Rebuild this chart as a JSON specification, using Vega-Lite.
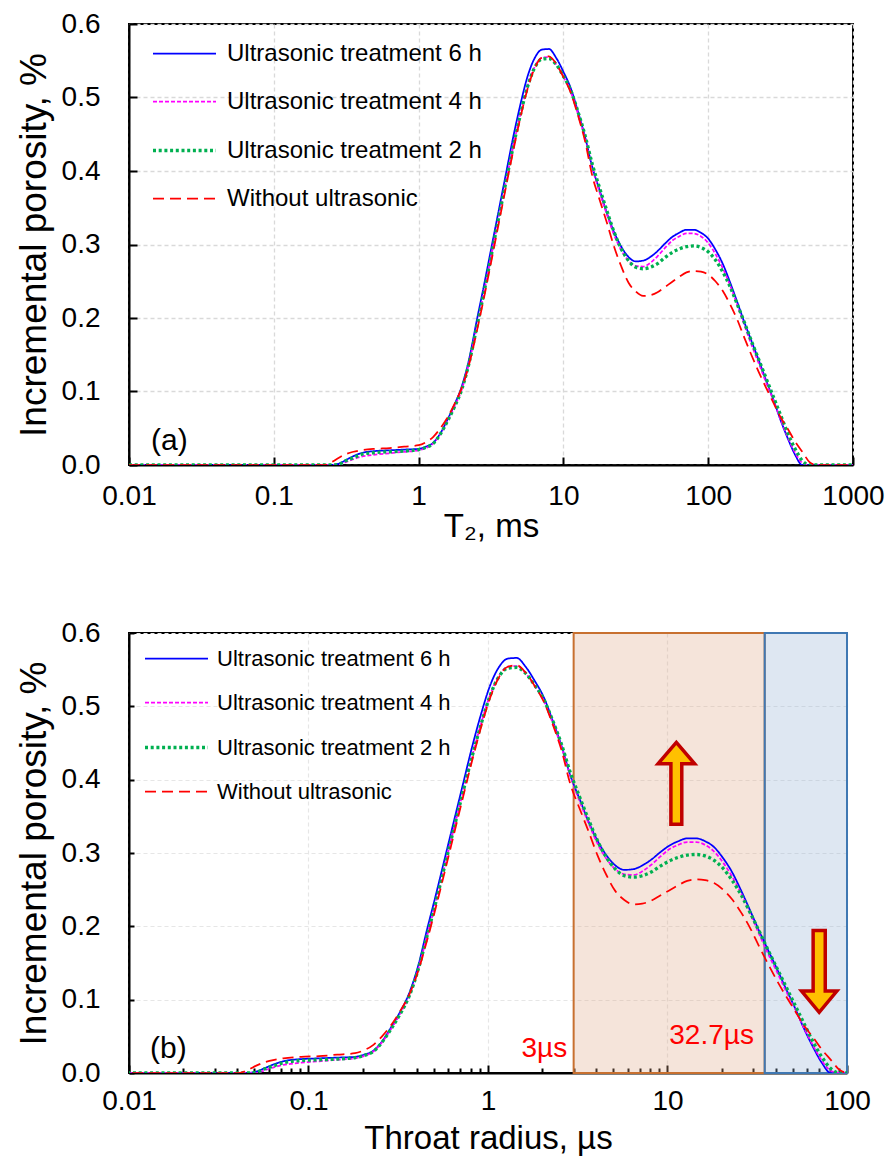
{
  "$schema": "https://vega.github.io/schema/vega-lite/v6.json",
  "padding": {"left": 14, "top": 9, "right": 10, "bottom": 5},
  "background": "white",
  "config": {
    "font": "Liberation Sans",
    "view": {"stroke": "black", "strokeWidth": 2},
    "axis": {
      "labelFont": "Liberation Sans", "titleFont": "Liberation Sans",
      "labelFontSize": 28, "titleFontSize": 33, "titleFontWeight": "normal",
      "labelColor": "black", "titleColor": "black",
      "domainColor": "black", "domainWidth": 2, "tickColor": "black", "tickWidth": 2,
      "labelFlush": false, "labelOverlap": false
    },
    "legend": {"labelFont": "Liberation Sans", "labelColor": "black", "labelLimit": 500}
  },
  "datasets": {
    "curves": [
      {"T2": 0.01, "r": 0.00182, "h6": 0, "h4": 0, "h2": 0, "h0": 0},
      {"T2": 0.2239, "r": 0.0407, "h6": 0, "h4": 0, "h2": 0, "h0": 0},
      {"T2": 0.2512, "r": 0.0457, "h6": 0, "h4": 0, "h2": 0, "h0": 0.004},
      {"T2": 0.2818, "r": 0.0512, "h6": 0.002, "h4": 0, "h2": 0.001, "h0": 0.010},
      {"T2": 0.3162, "r": 0.0575, "h6": 0.007, "h4": 0.004, "h2": 0.006, "h0": 0.015},
      {"T2": 0.3548, "r": 0.0645, "h6": 0.012, "h4": 0.008, "h2": 0.010, "h0": 0.018},
      {"T2": 0.3981, "r": 0.0724, "h6": 0.016, "h4": 0.011, "h2": 0.014, "h0": 0.020},
      {"T2": 0.5012, "r": 0.0911, "h6": 0.019, "h4": 0.014, "h2": 0.017, "h0": 0.022},
      {"T2": 0.6310, "r": 0.1147, "h6": 0.020, "h4": 0.016, "h2": 0.018, "h0": 0.023},
      {"T2": 0.7943, "r": 0.1444, "h6": 0.021, "h4": 0.018, "h2": 0.019, "h0": 0.025},
      {"T2": 1, "r": 0.1818, "h6": 0.022, "h4": 0.020, "h2": 0.021, "h0": 0.027},
      {"T2": 1.122, "r": 0.2040, "h6": 0.025, "h4": 0.023, "h2": 0.024, "h0": 0.031},
      {"T2": 1.259, "r": 0.2289, "h6": 0.030, "h4": 0.029, "h2": 0.029, "h0": 0.038},
      {"T2": 1.413, "r": 0.2569, "h6": 0.043, "h4": 0.042, "h2": 0.042, "h0": 0.050},
      {"T2": 1.585, "r": 0.2882, "h6": 0.062, "h4": 0.060, "h2": 0.060, "h0": 0.065},
      {"T2": 1.778, "r": 0.3233, "h6": 0.083, "h4": 0.080, "h2": 0.080, "h0": 0.084},
      {"T2": 1.995, "r": 0.3627, "h6": 0.108, "h4": 0.104, "h2": 0.104, "h0": 0.106},
      {"T2": 2.239, "r": 0.4071, "h6": 0.145, "h4": 0.140, "h2": 0.140, "h0": 0.138},
      {"T2": 2.512, "r": 0.4567, "h6": 0.195, "h4": 0.186, "h2": 0.186, "h0": 0.180},
      {"T2": 2.818, "r": 0.5124, "h6": 0.243, "h4": 0.233, "h2": 0.233, "h0": 0.226},
      {"T2": 3.162, "r": 0.5749, "h6": 0.293, "h4": 0.283, "h2": 0.283, "h0": 0.275},
      {"T2": 3.548, "r": 0.6451, "h6": 0.343, "h4": 0.333, "h2": 0.333, "h0": 0.325},
      {"T2": 3.981, "r": 0.7238, "h6": 0.393, "h4": 0.382, "h2": 0.382, "h0": 0.375},
      {"T2": 4.467, "r": 0.8122, "h6": 0.443, "h4": 0.430, "h2": 0.430, "h0": 0.424},
      {"T2": 5.012, "r": 0.9113, "h6": 0.488, "h4": 0.475, "h2": 0.474, "h0": 0.470},
      {"T2": 5.623, "r": 1.0224, "h6": 0.527, "h4": 0.514, "h2": 0.513, "h0": 0.510},
      {"T2": 6.310, "r": 1.1473, "h6": 0.553, "h4": 0.541, "h2": 0.540, "h0": 0.539},
      {"T2": 7.079, "r": 1.2871, "h6": 0.565, "h4": 0.554, "h2": 0.552, "h0": 0.554},
      {"T2": 7.943, "r": 1.4442, "h6": 0.566, "h4": 0.555, "h2": 0.553, "h0": 0.556},
      {"T2": 8.913, "r": 1.6205, "h6": 0.554, "h4": 0.545, "h2": 0.545, "h0": 0.546},
      {"T2": 10, "r": 1.8182, "h6": 0.535, "h4": 0.528, "h2": 0.529, "h0": 0.528},
      {"T2": 11.22, "r": 2.040, "h6": 0.513, "h4": 0.508, "h2": 0.510, "h0": 0.507},
      {"T2": 12.59, "r": 2.289, "h6": 0.481, "h4": 0.478, "h2": 0.481, "h0": 0.476},
      {"T2": 14.13, "r": 2.569, "h6": 0.446, "h4": 0.444, "h2": 0.448, "h0": 0.440},
      {"T2": 15.85, "r": 2.882, "h6": 0.405, "h4": 0.404, "h2": 0.409, "h0": 0.393},
      {"T2": 17.78, "r": 3.233, "h6": 0.374, "h4": 0.371, "h2": 0.377, "h0": 0.361},
      {"T2": 19.95, "r": 3.627, "h6": 0.343, "h4": 0.341, "h2": 0.346, "h0": 0.330},
      {"T2": 22.39, "r": 4.071, "h6": 0.317, "h4": 0.313, "h2": 0.317, "h0": 0.297},
      {"T2": 25.12, "r": 4.567, "h6": 0.297, "h4": 0.292, "h2": 0.294, "h0": 0.270},
      {"T2": 28.18, "r": 5.124, "h6": 0.283, "h4": 0.278, "h2": 0.278, "h0": 0.248},
      {"T2": 31.62, "r": 5.749, "h6": 0.277, "h4": 0.271, "h2": 0.269, "h0": 0.236},
      {"T2": 35.48, "r": 6.451, "h6": 0.278, "h4": 0.270, "h2": 0.267, "h0": 0.230},
      {"T2": 39.81, "r": 7.238, "h6": 0.283, "h4": 0.275, "h2": 0.269, "h0": 0.231},
      {"T2": 44.67, "r": 8.122, "h6": 0.291, "h4": 0.284, "h2": 0.274, "h0": 0.235},
      {"T2": 50.12, "r": 9.113, "h6": 0.301, "h4": 0.295, "h2": 0.282, "h0": 0.242},
      {"T2": 56.23, "r": 10.224, "h6": 0.310, "h4": 0.305, "h2": 0.289, "h0": 0.249},
      {"T2": 63.10, "r": 11.473, "h6": 0.316, "h4": 0.311, "h2": 0.294, "h0": 0.256},
      {"T2": 70.79, "r": 12.871, "h6": 0.320, "h4": 0.315, "h2": 0.297, "h0": 0.262},
      {"T2": 79.43, "r": 14.442, "h6": 0.320, "h4": 0.315, "h2": 0.298, "h0": 0.264},
      {"T2": 89.13, "r": 16.205, "h6": 0.316, "h4": 0.311, "h2": 0.296, "h0": 0.263},
      {"T2": 100, "r": 18.182, "h6": 0.308, "h4": 0.302, "h2": 0.290, "h0": 0.259},
      {"T2": 112.2, "r": 20.40, "h6": 0.293, "h4": 0.287, "h2": 0.279, "h0": 0.250},
      {"T2": 125.9, "r": 22.89, "h6": 0.274, "h4": 0.268, "h2": 0.263, "h0": 0.237},
      {"T2": 141.3, "r": 25.69, "h6": 0.249, "h4": 0.245, "h2": 0.243, "h0": 0.219},
      {"T2": 158.5, "r": 28.82, "h6": 0.222, "h4": 0.218, "h2": 0.219, "h0": 0.198},
      {"T2": 177.8, "r": 32.33, "h6": 0.194, "h4": 0.190, "h2": 0.194, "h0": 0.173},
      {"T2": 199.5, "r": 36.27, "h6": 0.168, "h4": 0.163, "h2": 0.168, "h0": 0.149},
      {"T2": 223.9, "r": 40.71, "h6": 0.142, "h4": 0.138, "h2": 0.143, "h0": 0.126},
      {"T2": 251.2, "r": 45.67, "h6": 0.115, "h4": 0.112, "h2": 0.118, "h0": 0.105},
      {"T2": 281.8, "r": 51.24, "h6": 0.089, "h4": 0.088, "h2": 0.093, "h0": 0.085},
      {"T2": 316.2, "r": 57.49, "h6": 0.061, "h4": 0.062, "h2": 0.068, "h0": 0.065},
      {"T2": 354.8, "r": 64.51, "h6": 0.036, "h4": 0.038, "h2": 0.043, "h0": 0.049},
      {"T2": 398.1, "r": 72.38, "h6": 0.014, "h4": 0.017, "h2": 0.022, "h0": 0.032},
      {"T2": 446.7, "r": 81.22, "h6": 0, "h4": 0.003, "h2": 0.006, "h0": 0.018},
      {"T2": 501.2, "r": 91.13, "h6": 0, "h4": 0, "h2": 0, "h0": 0.004},
      {"T2": 562.3, "r": 102.24, "h6": 0, "h4": 0, "h2": 0, "h0": 0},
      {"T2": 1000, "r": 181.8, "h6": 0, "h4": 0, "h2": 0, "h0": 0}
    ],
    "labelA": [{"T2": 0.0142, "v": 0.02, "text": "(a)"}],
    "labelB": [{"r": 0.0131, "v": 0.02, "text": "(b)"}],
    "redNotes": [
      {"r": 2.76, "v": 0.022, "text": "3µs"},
      {"r": 30.3, "v": 0.040, "text": "32.7µs"}
    ],
    "zone1": [{"from": 3, "to": 34.8, "lo": 0, "hi": 0.6}],
    "zone2": [{"from": 34.8, "to": 100, "lo": 0, "hi": 0.6}],
    "arrows": [
      {"r": 11.2, "v": 0.395, "dir": "up"},
      {"r": 70, "v": 0.1385, "dir": "down"}
    ]
  },
  "spacing": 74,
  "resolve": {
    "scale": {"color": "independent", "strokeDash": "independent", "strokeWidth": "independent"},
    "legend": {"color": "independent", "strokeDash": "independent", "strokeWidth": "independent"}
  },
  "vconcat": [
    {
      "width": 724,
      "height": 441,
      "layer": [
        {
          "data": {"name": "curves"},
          "transform": [{"fold": ["h6", "h4", "h2", "h0"], "as": ["series", "v"]}],
          "mark": {"type": "line", "interpolate": "monotone", "clip": true},
          "encoding": {
            "x": {
              "field": "T2", "type": "quantitative",
              "scale": {"type": "log", "domain": [0.01, 1000]},
              "axis": {
                "values": [0.01, 0.1, 1, 10, 100, 1000], "format": "~g",
                "title": "T₂, ms", "tickSize": -8, "labelPadding": 25, "titlePadding": 0,
                "grid": true, "gridColor": "#D9D9D9", "gridDash": [4, 3], "gridWidth": 1.3
              }
            },
            "y": {
              "field": "v", "type": "quantitative",
              "scale": {"domain": [0, 0.6]},
              "axis": {
                "values": [0, 0.1, 0.2, 0.3, 0.4, 0.5, 0.6], "format": ".1f",
                "title": "Incremental porosity, %", "titleFontSize": 37, "tickSize": -8, "labelPadding": 37, "titlePadding": 8,
                "grid": true, "gridColor": "#D9D9D9", "gridDash": [4, 3], "gridWidth": 1.3
              }
            },
            "color": {
              "field": "series", "type": "nominal",
              "scale": {"domain": ["h6", "h4", "h2", "h0"], "range": ["#0000FF", "#FF00FF", "#00B050", "#FF0000"]},
              "legend": {
                "title": null, "orient": "none", "legendX": 22, "legendY": -3,
                "symbolType": "stroke", "symbolSize": 3969, "labelFontSize": 24, "rowPadding": 3, "labelOffset": 9,
                "labelExpr": "datum.label == 'h0' ? 'Without ultrasonic' : 'Ultrasonic treatment ' + substring(datum.label, 1) + ' h'"
              }
            },
            "strokeDash": {
              "field": "series", "type": "nominal",
              "scale": {"domain": ["h6", "h4", "h2", "h0"], "range": [[1, 0], [4, 2], [3, 2.7], [11, 6]]},
              "legend": {
                "title": null, "orient": "none", "legendX": 22, "legendY": -3,
                "symbolType": "stroke", "symbolSize": 3969, "labelFontSize": 24, "rowPadding": 3, "labelOffset": 9,
                "labelExpr": "datum.label == 'h0' ? 'Without ultrasonic' : 'Ultrasonic treatment ' + substring(datum.label, 1) + ' h'"
              }
            },
            "strokeWidth": {
              "field": "series", "type": "nominal",
              "scale": {"type": "ordinal", "domain": ["h6", "h4", "h2", "h0"], "range": [1.75, 1.75, 3.3, 1.75]},
              "legend": {
                "title": null, "orient": "none", "legendX": 22, "legendY": -3,
                "symbolType": "stroke", "symbolSize": 3969, "labelFontSize": 24, "rowPadding": 3, "labelOffset": 9,
                "labelExpr": "datum.label == 'h0' ? 'Without ultrasonic' : 'Ultrasonic treatment ' + substring(datum.label, 1) + ' h'"
              }
            }
          }
        },
        {
          "data": {"name": "labelA"},
          "mark": {"type": "text", "align": "left", "baseline": "alphabetic", "fontSize": 30, "color": "black"},
          "encoding": {
            "x": {"field": "T2", "type": "quantitative"},
            "y": {"field": "v", "type": "quantitative"},
            "text": {"field": "text"}
          }
        }
      ]
    },
    {
      "width": 718,
      "height": 440,
      "layer": [
        {
          "data": {"name": "zone1"},
          "mark": {"type": "rect", "fill": "#DEA584", "fillOpacity": 0.3, "stroke": "#C8702F", "strokeWidth": 2},
          "encoding": {
            "x": {"field": "from", "type": "quantitative"},
            "x2": {"field": "to"},
            "y": {"field": "lo", "type": "quantitative"},
            "y2": {"field": "hi"}
          }
        },
        {
          "data": {"name": "zone2"},
          "mark": {"type": "rect", "fill": "#91AFD4", "fillOpacity": 0.3, "stroke": "#3F78B3", "strokeWidth": 2},
          "encoding": {
            "x": {"field": "from", "type": "quantitative"},
            "x2": {"field": "to"},
            "y": {"field": "lo", "type": "quantitative"},
            "y2": {"field": "hi"}
          }
        },
        {
          "data": {"name": "curves"},
          "transform": [{"fold": ["h6", "h4", "h2", "h0"], "as": ["series", "v"]}],
          "mark": {"type": "line", "interpolate": "monotone", "clip": true},
          "encoding": {
            "x": {
              "field": "r", "type": "quantitative",
              "scale": {"type": "log", "domain": [0.01, 100]},
              "axis": {
                "values": [0.01, 0.02, 0.03, 0.04, 0.05, 0.06, 0.07, 0.08, 0.09, 0.1, 0.2, 0.3, 0.4, 0.5, 0.6, 0.7, 0.8, 0.9, 1, 2, 3, 4, 5, 6, 7, 8, 9, 10, 20, 30, 40, 50, 60, 70, 80, 90, 100],
                "format": "~g",
                "labelExpr": "indexof([0.01, 0.1, 1, 10, 100], datum.value) >= 0 ? datum.label : ''",
                "title": "Throat radius, µs", "tickSize": {"condition": {"test": "indexof([0.01, 0.1, 1, 10, 100], datum.value) >= 0", "value": -8}, "value": -5},
                "labelPadding": 22, "titlePadding": 4,
                "grid": true, "gridColor": "#E6E6E6", "gridDash": [4, 3], "gridWidth": 1.2,
                "gridOpacity": {"condition": {"test": "indexof([0.01, 0.1, 1, 10, 100], datum.value) >= 0", "value": 1}, "value": 0}
              }
            },
            "y": {
              "field": "v", "type": "quantitative",
              "scale": {"domain": [0, 0.6]},
              "axis": {
                "values": [0, 0.1, 0.2, 0.3, 0.4, 0.5, 0.6], "format": ".1f",
                "title": "Incremental porosity, %", "titleFontSize": 37, "tickSize": -5, "labelPadding": 34, "titlePadding": 8,
                "grid": true, "gridColor": "#E6E6E6", "gridDash": [4, 3], "gridWidth": 1.2
              }
            },
            "color": {
              "field": "series", "type": "nominal",
              "scale": {"domain": ["h6", "h4", "h2", "h0"], "range": ["#0000FF", "#FF00FF", "#00B050", "#FF0000"]},
              "legend": {
                "title": null, "orient": "none", "legendX": 14, "legendY": -7,
                "symbolType": "stroke", "symbolSize": 3969, "labelFontSize": 22, "rowPadding": -2.5, "labelOffset": 7,
                "labelExpr": "datum.label == 'h0' ? 'Without ultrasonic' : 'Ultrasonic treatment ' + substring(datum.label, 1) + ' h'"
              }
            },
            "strokeDash": {
              "field": "series", "type": "nominal",
              "scale": {"domain": ["h6", "h4", "h2", "h0"], "range": [[1, 0], [4, 2], [3, 2.7], [11, 6]]},
              "legend": {
                "title": null, "orient": "none", "legendX": 14, "legendY": -7,
                "symbolType": "stroke", "symbolSize": 3969, "labelFontSize": 22, "rowPadding": -2.5, "labelOffset": 7,
                "labelExpr": "datum.label == 'h0' ? 'Without ultrasonic' : 'Ultrasonic treatment ' + substring(datum.label, 1) + ' h'"
              }
            },
            "strokeWidth": {
              "field": "series", "type": "nominal",
              "scale": {"type": "ordinal", "domain": ["h6", "h4", "h2", "h0"], "range": [1.75, 1.75, 3.3, 1.75]},
              "legend": {
                "title": null, "orient": "none", "legendX": 14, "legendY": -7,
                "symbolType": "stroke", "symbolSize": 3969, "labelFontSize": 22, "rowPadding": -2.5, "labelOffset": 7,
                "labelExpr": "datum.label == 'h0' ? 'Without ultrasonic' : 'Ultrasonic treatment ' + substring(datum.label, 1) + ' h'"
              }
            }
          }
        },
        {
          "data": {"name": "labelB"},
          "mark": {"type": "text", "align": "left", "baseline": "alphabetic", "fontSize": 30, "color": "black"},
          "encoding": {
            "x": {"field": "r", "type": "quantitative"},
            "y": {"field": "v", "type": "quantitative"},
            "text": {"field": "text"}
          }
        },
        {
          "data": {"name": "redNotes"},
          "mark": {"type": "text", "align": "right", "baseline": "alphabetic", "fontSize": 28, "color": "#FF0000"},
          "encoding": {
            "x": {"field": "r", "type": "quantitative"},
            "y": {"field": "v", "type": "quantitative"},
            "text": {"field": "text"}
          }
        },
        {
          "data": {"name": "arrows"},
          "mark": {"type": "point", "filled": true, "fill": "#FFC000", "stroke": "#C00000", "strokeWidth": 3.5, "opacity": 1, "size": 6700},
          "encoding": {
            "x": {"field": "r", "type": "quantitative"},
            "y": {"field": "v", "type": "quantitative"},
            "shape": {
              "field": "dir", "type": "nominal",
              "scale": {"domain": ["up", "down"], "range": ["M 0 -1 L 0.446 -0.48 L 0.133 -0.48 L 0.133 1 L -0.133 1 L -0.133 -0.48 L -0.446 -0.48 Z", "M -0.148 -1 L 0.148 -1 L 0.148 0.48 L 0.432 0.48 L 0 1 L -0.432 0.48 L -0.148 0.48 Z"]},
              "legend": null
            }
          }
        }
      ]
    }
  ]
}
